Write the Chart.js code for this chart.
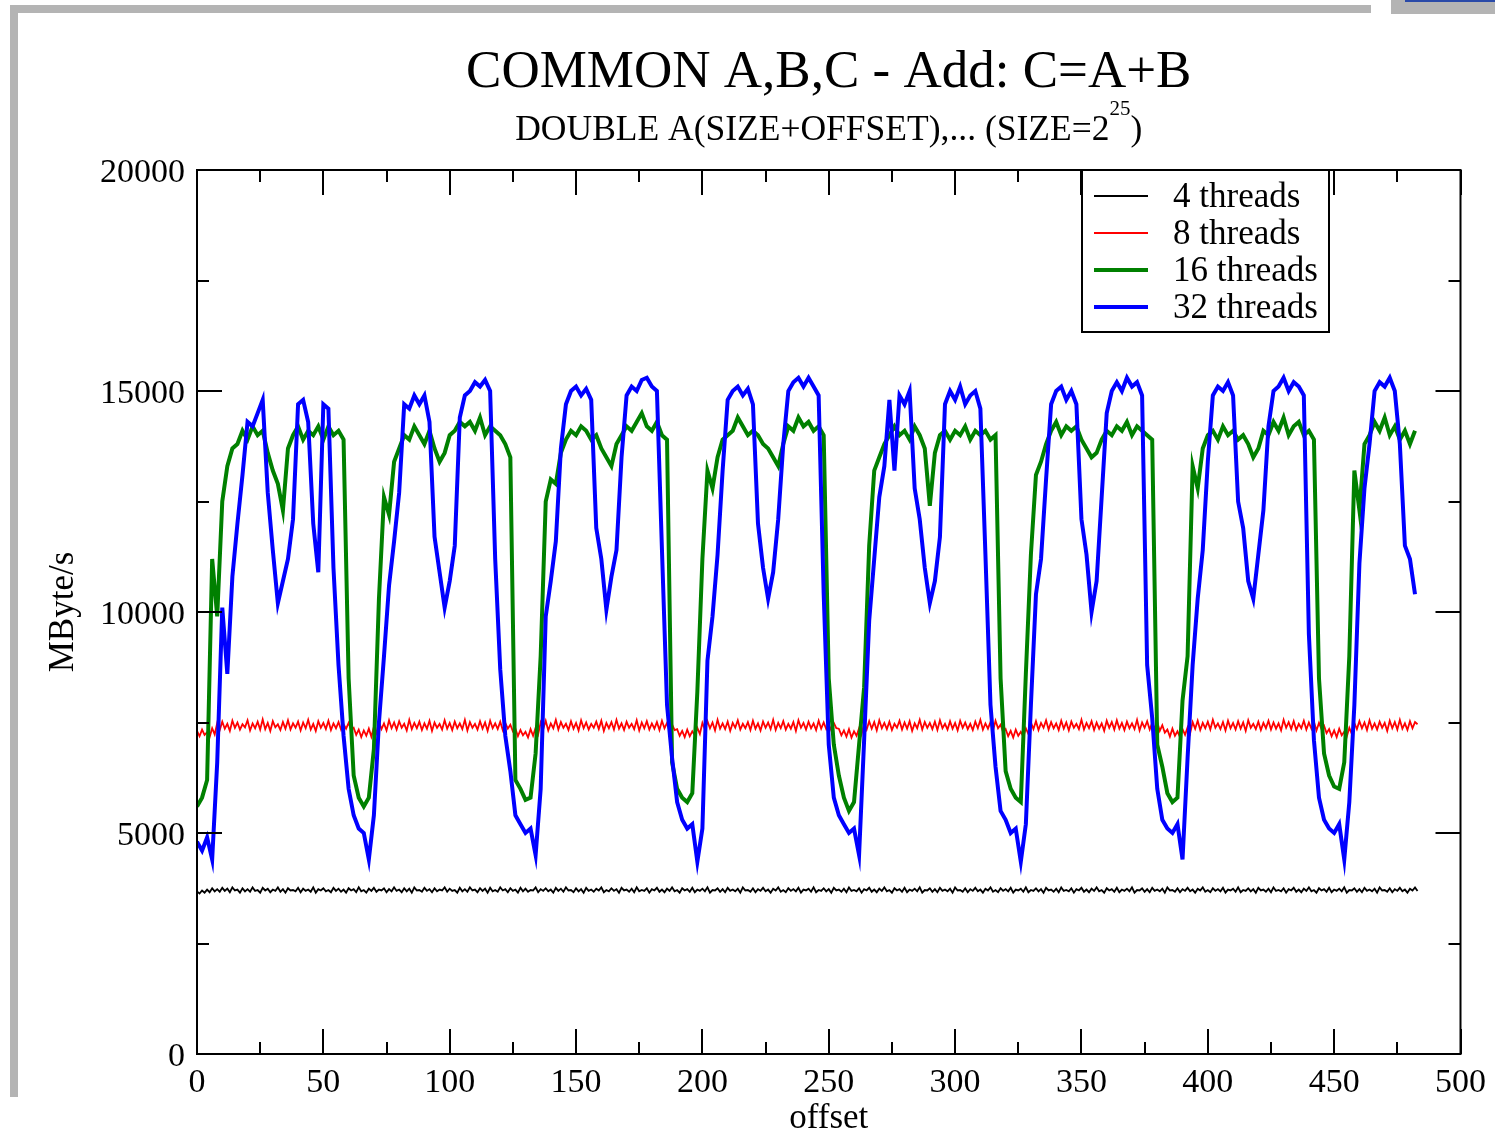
<!DOCTYPE html>
<html>
<head>
<meta charset="utf-8">
<title>COMMON A,B,C - Add: C=A+B</title>
<script src="https://cdn.jsdelivr.net/npm/chart.js@4.4.1/dist/chart.umd.min.js"></script>
<style>
  html, body { margin: 0; padding: 0; background: #fff; }
  #page { position: relative; width: 1495px; height: 1135px; overflow: hidden; background: #fff; }
  #chart { position: absolute; left: 0; top: 0; }
  .frame { position: absolute; background: #b4b4b4; }
</style>
</head>
<body>
<div id="page">
  <div class="frame" style="left:10px;top:5px;width:1361px;height:8px"></div>
  <div class="frame" style="left:10px;top:5px;width:8px;height:1092px"></div>
  <div class="frame" style="left:1391px;top:0;width:104px;height:14px"></div>
  <div style="position:absolute;left:1405px;top:0;width:90px;height:2px;background:#2a4aa8"></div>
  <canvas id="chart" width="1495" height="1135"></canvas>
</div>
<script>
'use strict';

const chartTitle = 'COMMON A,B,C - Add: C=A+B';
const subtitleMain = 'DOUBLE A(SIZE+OFFSET),... (SIZE=2';
const subtitleSup = '25';
const subtitleTail = ')';
const xTitle = 'offset';
const yTitle = 'MByte/s';

const seriesLabels = ['4 threads', '8 threads', '16 threads', '32 threads'];
const seriesColors = ['#000000', '#ff0000', '#008000', '#0000ff'];

const xTicks = [0, 50, 100, 150, 200, 250, 300, 350, 400, 450, 500];
const xMinorTicks = [25, 75, 125, 175, 225, 275, 325, 375, 425, 475];
const yTicks = [0, 5000, 10000, 15000, 20000];
const yMinorTicks = [2500, 7500, 12500, 17500];

// 4 and 8 threads: one value per offset (0..483)
const offsetStep4 = 1;
const threads4 = [
  3680, 3630, 3700, 3650, 3720, 3660, 3750, 3680, 3730, 3670, 3760, 3690, 3740, 3660, 3770, 3700, 3720, 3650, 3750, 3680,
  3730, 3670, 3770, 3690, 3710, 3650, 3760, 3700, 3740, 3660, 3720, 3690, 3770, 3670, 3730, 3650, 3750, 3700, 3710, 3680,
  3760, 3660, 3740, 3690, 3720, 3670, 3770, 3650, 3730, 3700, 3750, 3680, 3710, 3660, 3760, 3690, 3740, 3670, 3720, 3650,
  3750, 3700, 3730, 3660, 3770, 3680, 3710, 3650, 3740, 3690, 3760, 3670, 3720, 3700, 3750, 3660, 3730, 3680, 3770, 3690,
  3720, 3660, 3750, 3680, 3740, 3650, 3770, 3700, 3710, 3670, 3760, 3690, 3730, 3660, 3750, 3680, 3720, 3700, 3770, 3670,
  3740, 3690, 3710, 3650, 3760, 3680, 3730, 3670, 3770, 3700, 3720, 3660, 3750, 3690, 3740, 3650, 3760, 3680, 3710, 3670,
  3770, 3700, 3730, 3660, 3750, 3690, 3720, 3650, 3760, 3680, 3740, 3670, 3710, 3700, 3770, 3660, 3730, 3690, 3750, 3680,
  3720, 3650, 3760, 3690, 3740, 3670, 3770, 3700, 3710, 3660, 3750, 3680, 3730, 3650, 3760, 3690, 3720, 3670, 3740, 3700,
  3770, 3660, 3710, 3680, 3750, 3690, 3730, 3650, 3760, 3700, 3720, 3670, 3740, 3660, 3770, 3680, 3710, 3690, 3750, 3650,
  3730, 3700, 3760, 3670, 3720, 3660, 3740, 3690, 3770, 3680, 3710, 3650, 3750, 3700, 3730, 3670, 3760, 3660, 3720, 3690,
  3740, 3680, 3770, 3650, 3710, 3700, 3750, 3670, 3730, 3660, 3760, 3690, 3720, 3680, 3740, 3650, 3770, 3700, 3710, 3670,
  3750, 3660, 3730, 3690, 3760, 3680, 3720, 3650, 3740, 3700, 3770, 3670, 3710, 3660, 3750, 3690, 3730, 3680, 3760, 3650,
  3720, 3700, 3740, 3670, 3770, 3660, 3710, 3690, 3750, 3680, 3730, 3650, 3760, 3700, 3720, 3670, 3740, 3660, 3770, 3690,
  3710, 3680, 3750, 3650, 3730, 3700, 3760, 3670, 3720, 3660, 3740, 3690, 3770, 3680, 3710, 3650, 3750, 3700, 3730, 3670,
  3760, 3660, 3720, 3690, 3740, 3680, 3770, 3650, 3710, 3700, 3750, 3670, 3730, 3660, 3760, 3690, 3720, 3680, 3740, 3650,
  3770, 3700, 3710, 3670, 3750, 3660, 3730, 3690, 3760, 3680, 3720, 3650, 3740, 3700, 3770, 3670, 3710, 3660, 3750, 3690,
  3730, 3680, 3760, 3650, 3720, 3700, 3740, 3670, 3770, 3660, 3710, 3690, 3750, 3680, 3730, 3650, 3760, 3700, 3720, 3670,
  3740, 3660, 3770, 3690, 3710, 3680, 3750, 3650, 3730, 3700, 3760, 3670, 3720, 3660, 3740, 3690, 3770, 3680, 3710, 3650,
  3750, 3700, 3730, 3670, 3760, 3660, 3720, 3690, 3740, 3680, 3770, 3650, 3710, 3700, 3750, 3670, 3730, 3660, 3760, 3690,
  3720, 3680, 3740, 3650, 3770, 3700, 3710, 3670, 3750, 3660, 3730, 3690, 3760, 3680, 3720, 3650, 3740, 3700, 3770, 3670,
  3710, 3660, 3750, 3690, 3730, 3680, 3760, 3650, 3720, 3700, 3740, 3670, 3770, 3660, 3710, 3690, 3750, 3680, 3730, 3650,
  3760, 3700, 3720, 3670, 3740, 3660, 3770, 3690, 3710, 3680, 3750, 3650, 3730, 3700, 3760, 3670, 3720, 3660, 3740, 3690,
  3770, 3680, 3710, 3650, 3750, 3700, 3730, 3670, 3760, 3660, 3720, 3690, 3740, 3680, 3770, 3650, 3710, 3700, 3750, 3670,
  3730, 3660, 3760, 3690, 3720, 3680, 3740, 3650, 3770, 3700, 3710, 3670, 3750, 3660, 3730, 3690, 3760, 3680, 3720, 3650,
  3740, 3700, 3770, 3690,
];

const offsetStep8 = 1;
const threads8 = [
  7310, 7190, 7340, 7220, 7280, 7170, 7370, 7230, 7490, 7330, 7520, 7360, 7470, 7310, 7540, 7380, 7500, 7340, 7460, 7390,
  7550, 7320, 7480, 7370, 7520, 7340, 7570, 7350, 7490, 7310, 7530, 7390, 7460, 7330, 7510, 7360, 7550, 7340, 7480, 7380,
  7520, 7320, 7500, 7370, 7560, 7340, 7470, 7310, 7530, 7380, 7490, 7350, 7540, 7330, 7480, 7370, 7510, 7340, 7460, 7360,
  7490, 7330, 7380, 7220, 7340, 7170, 7320, 7200, 7360, 7180, 7400, 7260, 7510, 7350, 7480, 7320, 7550, 7370, 7500, 7340,
  7530, 7380, 7470, 7320, 7560, 7350, 7490, 7370, 7520, 7330, 7480, 7360, 7540, 7310, 7500, 7380, 7470, 7340, 7550, 7360,
  7490, 7330, 7520, 7370, 7480, 7350, 7560, 7320, 7510, 7380, 7470, 7340, 7530, 7360, 7500, 7310, 7540, 7370, 7480, 7350,
  7520, 7330, 7490, 7360, 7450, 7300, 7360, 7190, 7330, 7210, 7290, 7160, 7350, 7200, 7380, 7230, 7500, 7350, 7540, 7320,
  7480, 7370, 7560, 7340, 7510, 7380, 7470, 7330, 7530, 7360, 7490, 7320, 7550, 7370, 7500, 7340, 7470, 7380, 7520, 7350,
  7540, 7310, 7490, 7370, 7510, 7340, 7560, 7360, 7480, 7330, 7520, 7380, 7470, 7350, 7550, 7320, 7500, 7370, 7530, 7340,
  7480, 7360, 7510, 7330, 7540, 7370, 7490, 7310, 7460, 7330, 7350, 7200, 7310, 7170, 7340, 7190, 7300, 7210, 7380, 7240,
  7490, 7340, 7530, 7370, 7500, 7320, 7560, 7360, 7480, 7350, 7520, 7310, 7490, 7380, 7550, 7340, 7470, 7370, 7510, 7330,
  7540, 7360, 7480, 7320, 7520, 7380, 7500, 7350, 7560, 7330, 7490, 7370, 7530, 7340, 7470, 7360, 7510, 7310, 7550, 7380,
  7490, 7340, 7520, 7370, 7480, 7330, 7540, 7360, 7500, 7350, 7460, 7320, 7490, 7370, 7360, 7210, 7320, 7180, 7350, 7160,
  7300, 7200, 7370, 7230, 7480, 7340, 7530, 7360, 7510, 7320, 7550, 7370, 7490, 7350, 7520, 7330, 7470, 7380, 7540, 7340,
  7500, 7360, 7530, 7310, 7480, 7370, 7560, 7340, 7510, 7380, 7490, 7350, 7520, 7330, 7550, 7370, 7470, 7340, 7530, 7360,
  7490, 7320, 7540, 7380, 7500, 7350, 7470, 7330, 7520, 7370, 7560, 7340, 7480, 7360, 7510, 7310, 7540, 7370, 7450, 7280,
  7350, 7190, 7310, 7160, 7340, 7200, 7290, 7180, 7370, 7240, 7500, 7350, 7530, 7330, 7490, 7380, 7550, 7340, 7510, 7370,
  7480, 7330, 7540, 7360, 7500, 7320, 7520, 7380, 7470, 7350, 7560, 7340, 7490, 7370, 7530, 7330, 7500, 7360, 7480, 7310,
  7540, 7380, 7510, 7340, 7550, 7360, 7490, 7330, 7520, 7370, 7480, 7350, 7560, 7320, 7500, 7380, 7530, 7340, 7490, 7360,
  7510, 7310, 7440, 7270, 7340, 7180, 7360, 7200, 7300, 7170, 7350, 7220, 7390, 7250, 7510, 7360, 7540, 7330, 7490, 7370,
  7520, 7340, 7560, 7380, 7480, 7350, 7510, 7320, 7540, 7370, 7490, 7340, 7530, 7360, 7500, 7310, 7550, 7380, 7470, 7350,
  7520, 7330, 7490, 7370, 7540, 7340, 7500, 7360, 7480, 7320, 7560, 7380, 7510, 7350, 7530, 7330, 7470, 7370, 7540, 7340,
  7500, 7360, 7520, 7320, 7490, 7350, 7430, 7260, 7350, 7190, 7320, 7170, 7360, 7210, 7290, 7180, 7380, 7240, 7490, 7350,
  7530, 7370, 7500, 7330, 7550, 7360, 7480, 7340, 7520, 7380, 7490, 7310, 7540, 7370, 7510, 7340, 7560, 7360, 7480, 7330,
  7530, 7370, 7510, 7460,
];

// 16 and 32 threads: one value every second offset (0..482)
const offsetStep16 = 2;
const threads16 = [
  5600, 5800, 6200, 11200, 9900, 12500, 13300, 13700, 13800, 14100,
  13900, 14200, 14000, 14100, 13600, 13200, 12900, 12300, 13700, 14000,
  14200, 13900, 14100, 14000, 14200, 13900, 14200, 14000, 14100, 13900,
  8500, 6300, 5800, 5600, 5800, 6900, 10300, 12600, 12200, 13400,
  13700, 14000, 13900, 14200, 14000, 13800, 14100, 13700, 13400, 13600,
  14000, 14100, 14300, 14200, 14300, 14100, 14400, 14000, 14200, 14100,
  14000, 13800, 13500, 6200, 6000, 5750, 5800, 6800, 9000, 12500,
  13000, 12900, 13600, 13900, 14100, 14000, 14200, 14100, 13900, 14000,
  13700, 13500, 13300, 13800, 14000, 14200, 14100, 14300, 14500, 14200,
  14100, 14300, 14000, 13900, 6600, 6000, 5800, 5700, 5900, 8200,
  11200, 13200, 12800, 13500, 13900, 14000, 14100, 14400, 14200, 14000,
  14100, 14000, 13800, 13700, 13500, 13300, 13800, 14200, 14100, 14400,
  14200, 14300, 14100, 14200, 14000, 8500, 7000, 6300, 5800, 5500,
  5700, 7000, 8300, 11500, 13200, 13500, 13800, 14000, 14200, 14000,
  14100, 13900, 14200, 14000, 13700, 12400, 13600, 14000, 14100, 13900,
  14100, 14000, 14200, 13900, 14100, 14000, 14100, 13900, 14000, 8500,
  6400, 6000, 5800, 5700, 8600, 11300, 13100, 13400, 13800, 14100,
  14300, 14000, 14200, 14100, 14200, 13900, 13700, 13500, 13600, 13900,
  14100, 14000, 14200, 14100, 14300, 14000, 14200, 14100, 14000, 13900,
  7000, 6500, 5900, 5700, 5800, 8000, 9000, 13300, 12800, 13700,
  14000, 14100, 13900, 14200, 14000, 14100, 13900, 14000, 13800, 13500,
  13700, 14100, 14000, 14300, 14100, 14400, 14000, 14200, 14300, 14000,
  14100, 13900, 8500, 6800, 6300, 6050, 6000, 6600, 9000, 13200,
  12300, 13800, 14000, 14300, 14100, 14400, 14000, 14200, 13900, 14100, 13800, 14100,
];

const offsetStep32 = 2;
const threads32 = [
  4800, 4600, 4900, 4400, 6600, 10100, 8600, 10800, 12000, 13100,
  14300, 14200, 14500, 14800, 12700, 11400, 10200, 10700, 11200, 12100,
  14700, 14800, 14300, 12000, 10900, 14700, 14600, 11000, 8800, 7200,
  6000, 5400, 5100, 5000, 4400, 5400, 7500, 9000, 10600, 11600,
  12700, 14700, 14600, 14900, 14700, 14900, 14300, 11700, 10900, 10100,
  10700, 11500, 14400, 14900, 15000, 15200, 15100, 15250, 15000, 11200,
  8700, 7200, 6400, 5400, 5200, 5000, 5100, 4500, 6000, 9900,
  10700, 11600, 13700, 14700, 15000, 15100, 14900, 15050, 14800, 11900,
  11200, 10050, 10800, 11400, 13500, 14900, 15100, 15000, 15250, 15300,
  15100, 15000, 11400, 7900, 6700, 5700, 5300, 5100, 5200, 4350,
  5100, 8900, 9900, 11300, 13200, 14800, 15000, 15100, 14900, 15050,
  14700, 12000, 11000, 10300, 10900, 12100, 13800, 15000, 15200, 15300,
  15100, 15300, 15100, 14900, 10400, 7000, 5800, 5400, 5200, 5000,
  5100, 4500, 7100, 9800, 11200, 12600, 13300, 14800, 13200, 14900,
  14700, 15000, 12800, 12100, 11000, 10200, 10700, 11700, 14700, 15000,
  14800, 15100, 14700, 14900, 15000, 14600, 11300, 7900, 6500, 5500,
  5300, 5000, 5100, 4350, 5200, 7900, 10400, 11200, 13000, 14700,
  15000, 15100, 14800, 15000, 14700, 12100, 11300, 10000, 10700, 12600,
  14500, 15000, 15200, 15000, 15300, 15100, 15200, 14900, 8800, 7600,
  6000, 5300, 5100, 5000, 5200, 4400, 6700, 8800, 10300, 11400,
  13400, 14900, 15100, 15000, 15200, 14900, 12500, 11900, 10700, 10300,
  11300, 12300, 14200, 15000, 15100, 15300, 15000, 15200, 15100, 14900,
  9500, 7100, 5800, 5300, 5100, 5000, 5200, 4400, 5700, 7900,
  11100, 12800, 13800, 15000, 15200, 15100, 15300, 15000, 13800, 11500, 11200, 10400,
];

const serifFont = '"Liberation Serif", "Times New Roman", serif';

function toPoints(values, step) {
  return values.map((v, i) => ({ x: i * step, y: v }));
}

// Titel, Rahmen mit Innenstrichen und Legende zeichnen
const framePlugin = {
  id: 'frame',
  afterDatasetsDraw(chart) {
    const { ctx, chartArea: a, scales } = chart;
    const xs = scales.x;
    const ys = scales.y;
    ctx.save();
    ctx.strokeStyle = '#000';
    ctx.lineWidth = 2;
    ctx.lineCap = 'butt';

    ctx.beginPath();
    const xTick = (v, len) => {
      const px = Math.round(xs.getPixelForValue(v));
      ctx.moveTo(px, a.bottom);
      ctx.lineTo(px, a.bottom - len);
      ctx.moveTo(px, a.top);
      ctx.lineTo(px, a.top + len);
    };
    const yTick = (v, len) => {
      const py = Math.round(ys.getPixelForValue(v));
      ctx.moveTo(a.left, py);
      ctx.lineTo(a.left + len, py);
      ctx.moveTo(a.right, py);
      ctx.lineTo(a.right - len, py);
    };
    xTicks.forEach(v => xTick(v, 25));
    xMinorTicks.forEach(v => xTick(v, 12));
    yTicks.forEach(v => yTick(v, 25));
    yMinorTicks.forEach(v => yTick(v, 12));
    ctx.stroke();
    ctx.strokeRect(a.left, a.top, a.right - a.left, a.bottom - a.top);

    // Legende
    const box = { left: 1082, top: a.top, right: 1329, bottom: 332 };
    ctx.fillStyle = '#fff';
    ctx.fillRect(box.left, box.top, box.right - box.left, box.bottom - box.top);
    ctx.strokeRect(box.left, box.top, box.right - box.left, box.bottom - box.top);
    const rows = [196, 233, 270, 307];
    const widths = [1.8, 1.8, 4, 4];
    ctx.font = '35px ' + serifFont;
    ctx.textAlign = 'left';
    ctx.textBaseline = 'middle';
    chart.data.datasets.forEach((ds, i) => {
      ctx.beginPath();
      ctx.strokeStyle = ds.borderColor;
      ctx.lineWidth = widths[i];
      ctx.moveTo(1094, rows[i]);
      ctx.lineTo(1148, rows[i]);
      ctx.stroke();
      ctx.fillStyle = '#000';
      ctx.fillText(ds.label, 1173, rows[i] + 2);
    });
    ctx.restore();
  },
  afterDraw(chart) {
    const { ctx, chartArea: a } = chart;
    const cx = (a.left + a.right) / 2;
    ctx.save();
    ctx.fillStyle = '#000';
    ctx.textBaseline = 'alphabetic';
    ctx.textAlign = 'center';
    ctx.font = '53px ' + serifFont;
    ctx.fillText(chartTitle, cx, 87);

    ctx.textAlign = 'left';
    const mainFont = '35.5px ' + serifFont;
    const supFont = '21px ' + serifFont;
    ctx.font = mainFont;
    const wMain = ctx.measureText(subtitleMain).width;
    const wTail = ctx.measureText(subtitleTail).width;
    ctx.font = supFont;
    const wSup = ctx.measureText(subtitleSup).width;
    let x0 = cx - (wMain + wSup + wTail) / 2;
    ctx.font = mainFont;
    ctx.fillText(subtitleMain, x0, 140);
    x0 += wMain;
    ctx.font = supFont;
    ctx.fillText(subtitleSup, x0, 115);
    x0 += wSup;
    ctx.font = mainFont;
    ctx.fillText(subtitleTail, x0, 140);
    ctx.restore();
  },
};

const datasets = [
  { label: seriesLabels[0], data: toPoints(threads4, offsetStep4), borderColor: seriesColors[0], borderWidth: 1.8, order: 3 },
  { label: seriesLabels[1], data: toPoints(threads8, offsetStep8), borderColor: seriesColors[1], borderWidth: 1.8, order: 2 },
  { label: seriesLabels[2], data: toPoints(threads16, offsetStep16), borderColor: seriesColors[2], borderWidth: 4, order: 1 },
  { label: seriesLabels[3], data: toPoints(threads32, offsetStep32), borderColor: seriesColors[3], borderWidth: 4, order: 0 },
];

const ctx = document.getElementById('chart').getContext('2d');
new Chart(ctx, {
  type: 'line',
  data: { datasets },
  options: {
    responsive: false,
    animation: false,
    devicePixelRatio: 1,
    events: [],
    layout: { padding: { top: 170, right: 33, left: 0, bottom: 0 } },
    elements: {
      point: { radius: 0 },
      line: { tension: 0, fill: false, borderJoinStyle: 'miter' },
    },
    plugins: {
      legend: { display: false },
      title: { display: false },
      tooltip: { enabled: false },
    },
    scales: {
      x: {
        type: 'linear',
        min: 0,
        max: 500,
        grid: { display: false, drawTicks: false },
        border: { display: false },
        afterBuildTicks: scale => { scale.ticks = xTicks.map(v => ({ value: v })); },
        afterFit: scale => { scale.height = 81; },
        ticks: {
          color: '#000',
          padding: 9,
          maxRotation: 0,
          callback: value => String(value),
          font: { family: serifFont, size: 34, lineHeight: 1.2 },
        },
        title: {
          display: true,
          text: xTitle,
          color: '#000',
          padding: { top: 0, bottom: 0 },
          font: { family: serifFont, size: 35, lineHeight: 0.9 },
        },
      },
      y: {
        type: 'linear',
        min: 0,
        max: 20000,
        grid: { display: false, drawTicks: false },
        border: { display: false },
        afterBuildTicks: scale => { scale.ticks = yTicks.map(v => ({ value: v })); },
        afterFit: scale => { scale.width = 197; },
        ticks: {
          color: '#000',
          padding: 12,
          labelOffset: 3,
          callback: value => String(value),
          font: { family: serifFont, size: 34, lineHeight: 1.2 },
        },
        title: {
          display: true,
          text: yTitle,
          color: '#000',
          padding: { top: 43, bottom: 0 },
          font: { family: serifFont, size: 35, lineHeight: 1.2 },
        },
      },
    },
  },
  plugins: [framePlugin],
});
</script>
</body>
</html>
